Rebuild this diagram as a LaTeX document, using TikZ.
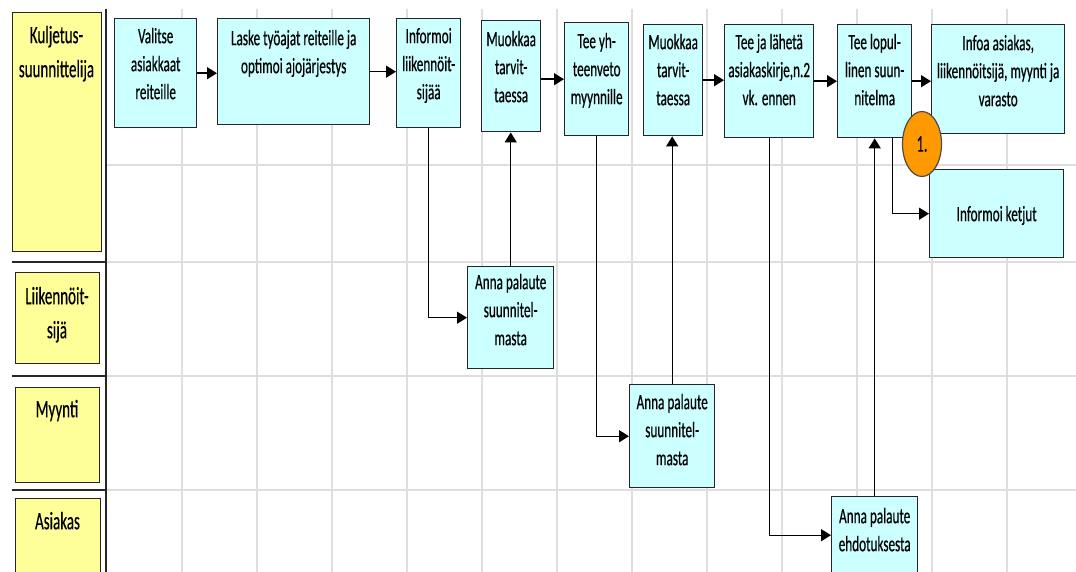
\documentclass[tikz,border=0pt]{standalone}
\usepackage{fontspec}
\setmainfont[FakeStretch=0.6,FakeBold=0.4]{Carlito}
\usetikzlibrary{arrows.meta,shapes.geometric}
\newcommand{\mystrut}{\rule{0pt}{18pt}}
\newcommand{\lanestrut}{\rule{0pt}{22pt}}
\definecolor{boxcyan}{HTML}{CCFFFF}
\definecolor{laneyellow}{HTML}{FFFF99}
\definecolor{gridgray}{HTML}{DEDEDE}
\definecolor{circorange}{HTML}{FF9900}
\begin{document}
\begin{tikzpicture}[x=1pt,y=-1pt,
  box/.style={draw=black!85,line width=1.4pt,fill=boxcyan,anchor=north west,inner sep=0pt},
  lanebox/.style={draw=black!85,line width=1.4pt,fill=laneyellow,anchor=north west,inner sep=0pt},
  txt/.style={anchor=north,inner sep=0pt,align=center,font=\fontsize{22}{28}\selectfont},
  lanetxt/.style={anchor=north,inner sep=0pt,align=center,font=\fontsize{25}{34}\selectfont},
  arr/.style={line width=1.4pt,-{Triangle[length=10pt,width=12pt]}},
  gridline/.style={gridgray,line width=1.8pt},
  sepline/.style={black!85,line width=1.8pt},
]
\useasboundingbox (0,0) rectangle (1076,572);
\fill[white] (0,0) rectangle (1076,572);
% grid
\foreach \x in {182,257,...,1007} \draw[gridline] (\x,9) -- (\x,572);
\foreach \y in {165,262,376,490} \draw[gridline] (106,\y) -- (1076,\y);
% lane separators
\draw[sepline] (106,9) -- (106,572);
\foreach \y in {262,376,490} \draw[sepline] (12,\y) -- (106,\y);
% lane labels
\node[lanebox,minimum width=89pt,minimum height=239pt] (l1) at (12,12) {};
\node[lanebox,minimum width=84pt,minimum height=91pt] (l2) at (15,272) {};
\node[lanebox,minimum width=84pt,minimum height=95pt] (l3) at (15,387) {};
\node[lanebox,minimum width=85pt,minimum height=80pt] (l4) at (15,498) {};
\node[lanetxt] (l1t) at (56.5,21) {\lanestrut Kuljetus-\\suunnittelija};
\node[lanetxt] (l2t) at (57,282) {\lanestrut Liikennöit-\\sijä};
\node[lanetxt] (l3t) at (57,395) {\lanestrut Myynti};
\node[lanetxt] (l4t) at (57.5,507) {\lanestrut Asiakas};
% boxes
\node[box,minimum width=82pt,minimum height=109pt] (n1) at (114,18) {};
\node[box,minimum width=152pt,minimum height=106pt] (n2) at (217,18) {};
\node[box,minimum width=64pt,minimum height=109pt] (n3) at (396,18) {};
\node[box,minimum width=59pt,minimum height=111pt] (n4) at (481,20) {};
\node[box,minimum width=64pt,minimum height=113pt] (n5) at (564,22) {};
\node[box,minimum width=59pt,minimum height=111pt] (n6) at (643,24) {};
\node[box,minimum width=89pt,minimum height=113pt] (n7) at (724,24) {};
\node[box,minimum width=74pt,minimum height=113pt] (n8) at (837,24) {};
\node[box,minimum width=133pt,minimum height=109pt] (n9) at (931,24) {};
\node[box,minimum width=134pt,minimum height=88pt] (k) at (929,169) {};
\node[box,minimum width=86pt,minimum height=102pt] (a1) at (467,266) {};
\node[box,minimum width=85pt,minimum height=103pt] (a2) at (629,384) {};
\node[box,minimum width=86pt,minimum height=77pt] (a3) at (831,496) {};
% texts
\node[txt] (n1t) at (n1.north |- 0,25) {\mystrut Valitse\\asiakkaat\\reiteille};
\node[txt] (n2t) at (n2.north |- 0,27) {\mystrut Laske työajat reiteille ja\\optimoi ajojärjestys};
\node[txt] (n3t) at (n3.north |- 0,25) {\mystrut Informoi\\liikennöit-\\sijää};
\node[txt] (n4t) at (n4.north |- 0,28) {\mystrut Muokkaa\\tarvit-\\taessa};
\node[txt] (n5t) at (n5.north |- 0,30) {\mystrut Tee yh-\\teenveto\\myynnille};
\node[txt] (n6t) at (n6.north |- 0,31) {\mystrut Muokkaa\\tarvit-\\taessa};
\node[txt] (n7t) at (n7.north |- 0,31) {\mystrut Tee ja lähetä\\asiakaskirje,n.2\\vk. ennen};
\node[txt] (n8t) at (n8.north |- 0,31) {\mystrut Tee lopul-\\linen suun-\\nitelma};
\node[txt] (n9t) at (n9.north |- 0,32) {\mystrut Infoa asiakas,\\liikennöitsijä, myynti ja\\varasto};
\node[txt] (kt) at (k.north |- 0,203) {\mystrut Informoi ketjut};
\node[txt] (a1t) at (a1.north |- 0,271) {\mystrut Anna palaute\\suunnitel-\\masta};
\node[txt] (a2t) at (a2.north |- 0,391) {\mystrut Anna palaute\\suunnitel-\\masta};
\node[txt] (a3t) at (a3.north |- 0,505) {\mystrut Anna palaute\\ehdotuksesta};
% connectors
\draw[arr] (n1.east) -- (n1.east -| n2.west);
\draw[arr] (n2.east) -- (n2.east -| n3.west);
\draw[arr] (n5.west -| n4.east) -- (n5.west);
\draw[arr] (n6.east) -- (n6.east -| n7.west);
\draw[arr] (n7.east) -- (n7.east -| n8.west);
\draw[arr] (n8.east) -- (n8.east -| n9.west);
\draw[arr] (n3.south) |- (a1.west);
\draw[arr] (a1.north) -- (a1.north |- n4.south);
\draw[arr] (n5.south) |- (a2.west);
\draw[arr] (a2.north) -- (a2.north |- n6.south);
\draw[arr] (n7.south) |- (a3.west);
\draw[arr] (a3.north) -- (a3.north |- n8.south);
\draw[arr] ([xshift=18pt]n8.south) |- (k.west);
% marker
\node[ellipse,draw=black!70,line width=1.2pt,fill=circorange,minimum width=39pt,minimum height=65pt,inner sep=0pt,font=\fontsize{24}{28}\selectfont] (c1) at (922,144) {1.};
\end{tikzpicture}
\end{document}
